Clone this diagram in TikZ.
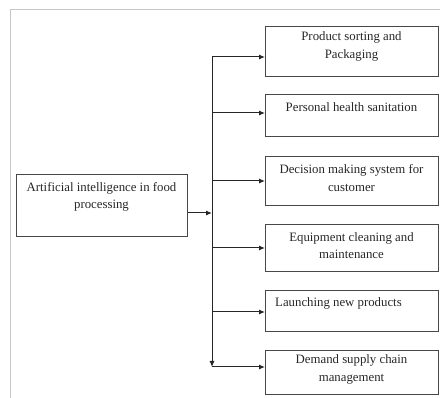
\documentclass[tikz,border=0pt]{standalone}
\usepackage{fontspec}
\setmainfont{Liberation Serif}
\usetikzlibrary{arrows.meta}
\begin{document}
\begin{tikzpicture}[x=1pt,y=-1pt,
  boxnode/.style={draw=black!72,line width=1.3pt,inner sep=0pt,anchor=north west},
  txt/.style={font=\fontsize{12.8}{17.5}\selectfont,align=center,inner sep=0pt,text=black!85},
  conn/.style={draw=black!85,line width=1pt},
  arr/.style={conn,-{Latex[length=6pt,width=5pt]}},
  frame/.style={draw=black!22,line width=1pt}
]
\useasboundingbox (0,0) rectangle (440,398);
\draw[frame] (10,398) -- (10,10) -- (440,10);

% boxes
\node[boxnode,minimum width=173pt,minimum height=50pt] (b1) at (265,26) {};
\node[boxnode,minimum width=173pt,minimum height=42pt] (b2) at (265,94) {};
\node[boxnode,minimum width=173pt,minimum height=49pt] (b3) at (265,156) {};
\node[boxnode,minimum width=173pt,minimum height=47pt] (b4) at (265,224) {};
\node[boxnode,minimum width=173pt,minimum height=41pt] (b5) at (265,290) {};
\node[boxnode,minimum width=173pt,minimum height=44pt] (b6) at (265,350) {};
\node[boxnode,minimum width=171pt,minimum height=62pt] (src) at (16,174) {};

% texts
\node[txt] (t1) at (351.5,46.5) {Product sorting and\\Packaging};
\node[txt] (t2) at (351.5,107) {Personal health sanitation};
\node[txt] (t3) at (351.5,178) {Decision making system for\\customer};
\node[txt] (t4) at (351.5,245.5) {Equipment cleaning and\\maintenance};
\node[txt,anchor=west] (t5) at (275,303) {Launching new products};
\node[txt] (t6) at (351.5,369.5) {Demand supply chain\\management};
\node[txt] (ts) at (101.5,197) {Artificial intelligence in food\\processing};

% trunk
\coordinate (top) at (212,57);
\coordinate (bot) at (212,367);
\coordinate (j) at (212,213);
\coordinate (y2) at (212,113);
\coordinate (y3) at (212,181);
\coordinate (y4) at (212,248);
\coordinate (y5) at (212,312);

\draw[arr] (src.east |- j) -- (j);
\draw[arr] (top) -- (bot);
\draw[arr] (top) -- (top -| b1.west);
\draw[arr] (y2) -- (y2 -| b2.west);
\draw[arr] (y3) -- (y3 -| b3.west);
\draw[arr] (y4) -- (y4 -| b4.west);
\draw[arr] (y5) -- (y5 -| b5.west);
\draw[arr] (bot) -- (bot -| b6.west);
\end{tikzpicture}
\end{document}
